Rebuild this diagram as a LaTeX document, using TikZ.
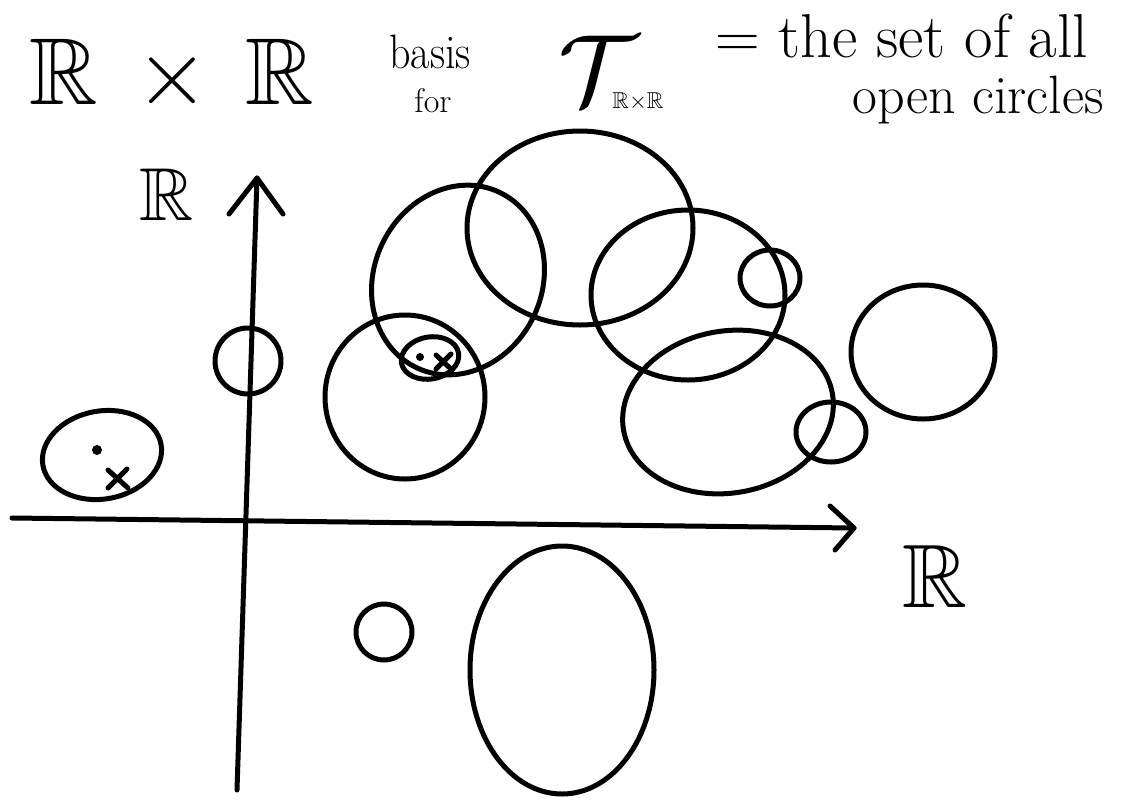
\documentclass[tikz,border=0pt]{standalone}
\usepackage{amssymb}
\usepackage{fontspec}
\begin{document}
\begin{tikzpicture}[x=1pt,y=-1pt,
  pen/.style={line width=5pt,line cap=round,line join=round},
  ring/.style={pen},
  lbl/.style={inner sep=0pt,anchor=center}]
\useasboundingbox (0,0) rectangle (1128,807);
% title
\node[lbl,scale=9.5] (rr) at (172,76) {$\mathbb{R}\,\times\,\mathbb{R}$};
\node[lbl,yscale=1.15] (basis) at (430,52) {\fontsize{42}{42}\selectfont basis};
\node[lbl] (for) at (433,101) {\fontsize{34}{34}\selectfont for};
\node[lbl,scale=10] (tau) at (598,70) {$\mathcal{T}$};
\node[lbl,scale=2.3] (sub) at (638,102) {$\mathbb{R}{\times}\mathbb{R}$};
\node[lbl] (eq) at (902,36) {\fontsize{62}{62}\selectfont = the set of all};
\node[lbl] (open) at (978,100) {\fontsize{54}{54}\selectfont open circles};
% axes
\coordinate (xs) at (12,518);
\coordinate (xe) at (854,528);
\coordinate (ys) at (237,790);
\coordinate (ye) at (257,178);
\draw[pen] (xs) -- (xe);
\draw[pen] (830,506) -- (xe) -- (835,550);
\draw[pen] (ys) -- (ye);
\draw[pen] (229,214) -- (ye) -- (283,214);
\node[lbl,scale=7.5] (ry) at (167,195) {$\mathbb{R}$};
\node[lbl,scale=9] (rx) at (935,576) {$\mathbb{R}$};
% circles
\draw[ring,rotate around={10:(102,455)}] (102,455) ellipse [x radius=60,y radius=44];
\fill (97,450) circle (5);
\draw[pen] (108,470) -- (128,488) (108,488) -- (127,469);
\draw[ring] (248,361) ellipse [x radius=33,y radius=33];
\draw[ring] (405,397) ellipse [x radius=80,y radius=82];
\draw[ring,rotate around={-25:(458,280)}] (458,280) ellipse [x radius=84,y radius=97];
\draw[ring,rotate around={10:(430,358)}] (430,358) ellipse [x radius=29,y radius=21];
\fill (420,357) circle (4);
\draw[pen] (436,355) -- (452,370) (436,369) -- (451,354);
\draw[ring] (580,228) ellipse [x radius=113,y radius=97];
\draw[ring] (688,295) ellipse [x radius=97,y radius=85];
\draw[ring] (770,278) ellipse [x radius=30,y radius=28];
\draw[ring] (923,352) ellipse [x radius=72,y radius=67];
\draw[ring,rotate around={10:(728,412)}] (728,412) ellipse [x radius=106,y radius=81];
\draw[ring] (831,432) ellipse [x radius=35,y radius=30];
\draw[ring] (384,632) ellipse [x radius=28,y radius=28];
\draw[ring] (562,670) ellipse [x radius=92,y radius=124];
\end{tikzpicture}
\end{document}
